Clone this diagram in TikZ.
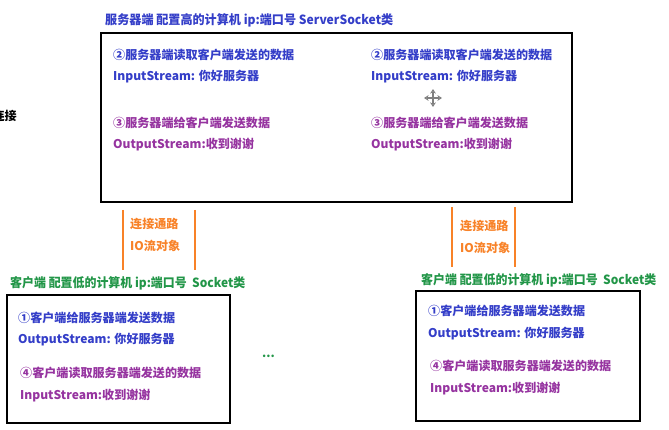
\documentclass[tikz,border=0pt]{standalone}
\usepackage{fontspec}
\usepackage{graphicx}
\setmainfont{Noto Sans CJK SC}
\newfontfamily\cjk{Noto Sans CJK SC}
\usetikzlibrary{arrows.meta}

\definecolor{srvblue}{RGB}{52,62,200}
\definecolor{srvpurple}{RGB}{150,52,160}
\definecolor{cligreen}{RGB}{34,150,72}
\definecolor{ioorange}{RGB}{248,130,40}

% 标题按给定宽度横向伸缩
\newsavebox\titlebox
\newcommand\fitx[2]{\sbox\titlebox{#2}\pgfmathsetmacro\titleratio{#1/\wd\titlebox}\scalebox{\titleratio}[1]{\usebox\titlebox}}

\begin{document}
\begin{tikzpicture}[x=0.03cm, y=-0.03cm,
	txt/.style={anchor=west, inner sep=0pt, font=\cjk\bfseries\fontsize{10.3}{12}\selectfont},
	titletxt/.style={txt, font=\cjk\bfseries\fontsize{10.8}{12}\selectfont},
	bluetxt/.style={txt, text=srvblue},
	purtxt/.style={txt, text=srvpurple},
	greentxt/.style={txt, text=cligreen},
	orgtxt/.style={txt, text=ioorange},
	box/.style={line width=2.3pt, black},
	iopath/.style={line width=2.2pt, ioorange}]
	\useasboundingbox (0,0) rectangle (669,430);
	
	% 左侧被截断的文字
	\node[txt, anchor=east] (lian) at (17,116) {连接};
	
	% 服务器端
	\node[titletxt, text=srvblue] (srvtitle) at (105,20) {\fitx{8.64cm}{服务器端 配置高的计算机 ip:端口号 ServerSocket类}};
	\draw[box] (101,33) rectangle (572,202);
	\node[bluetxt] (srvreadA) at (113,55) {②服务器端读取客户端发送的数据};
	\node[bluetxt] (srvinA) at (113,77) {InputStream: 你好服务器};
	\node[purtxt] (srvsendA) at (113,123) {③服务器端给客户端发送数据};
	\node[purtxt] (srvoutA) at (113,145) {OutputStream:收到谢谢};
	\node[bluetxt] (srvreadB) at (371,55) {②服务器端读取客户端发送的数据};
	\node[bluetxt] (srvinB) at (371,77) {InputStream: 你好服务器};
	\node[purtxt] (srvsendB) at (371,123) {③服务器端给客户端发送数据};
	\node[purtxt] (srvoutB) at (371,145) {OutputStream:收到谢谢};
	
	% 鼠标移动图标
	\foreach \dx/\dy in {1/0,-1/0,0/1,0/-1}
		\draw[gray, line width=0.9pt, -{Stealth[open, length=4pt, width=5pt]}] (433,98) -- ++(9*\dx,9*\dy);
	
	% IO流通路 (左)
	\draw[iopath] (123,210) -- (123,270);
	\draw[iopath] (195,210) -- (195,270);
	\node[orgtxt] (pathA) at (130,224) {连接通路};
	\node[orgtxt] (ioA) at (130,246) {IO流对象};
	
	% IO流通路 (右)
	\draw[iopath] (452,207) -- (452,267);
	\draw[iopath] (515,207) -- (515,267);
	\node[orgtxt] (pathB) at (460,226) {连接通路};
	\node[orgtxt] (ioB) at (460,248) {IO流对象};
	
	% 客户端 (左)
	\node[titletxt, text=cligreen] (clititleA) at (10,283) {\fitx{7.05cm}{客户端 配置低的计算机 ip:端口号\ \ Socket类}};
	\draw[box] (7,295) rectangle (230,423);
	\node[bluetxt] (clisendA) at (18,318) {①客户端给服务器端发送数据};
	\node[bluetxt] (clioutA) at (18,340) {OutputStream: 你好服务器};
	\node[purtxt] (clireadA) at (20,373) {④客户端读取服务器端发送的数据};
	\node[purtxt] (cliinA) at (20,396) {InputStream:收到谢谢};
	
	\node[greentxt] (dots) at (262,356) {...};
	
	% 客户端 (右)
	\node[titletxt, text=cligreen] (clititleB) at (421,280) {\fitx{7.05cm}{客户端 配置低的计算机 ip:端口号\ \ Socket类}};
	\draw[box] (416,291) rectangle (640,421);
	\node[bluetxt] (clisendB) at (428,311) {①客户端给服务器端发送数据};
	\node[bluetxt] (clioutB) at (428,334) {OutputStream: 你好服务器};
	\node[purtxt] (clireadB) at (430,366) {④客户端读取服务器端发送的数据};
	\node[purtxt] (cliinB) at (430,389) {InputStream:收到谢谢};
\end{tikzpicture}
\end{document}
